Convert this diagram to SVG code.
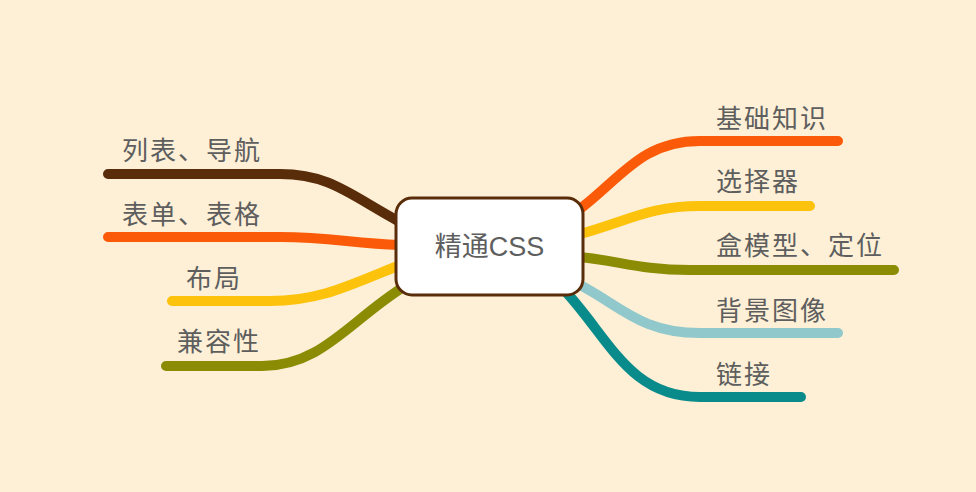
<svg xmlns="http://www.w3.org/2000/svg" width="976" height="492" viewBox="0 0 976 492">
<style>
.bg{fill:#fdf0d6}
.br{fill:none;stroke-width:10;stroke-linecap:round;stroke-linejoin:round}
.lbl{font-family:"Liberation Sans","Noto Sans CJK SC",sans-serif;font-size:26px;letter-spacing:2px;fill:#5e5e5e}
.root{fill:#ffffff;stroke:#5a2d0a;stroke-width:3}
.rt{font-family:"Liberation Sans","Noto Sans CJK SC",sans-serif;font-size:27px;fill:#5e5e5e}
</style>
<rect class="bg" x="0" y="0" width="976" height="492"/>
<g id="connectors">
<path class="br" stroke="#5a2d0a" d="M108 174 L280 174 C330 174 350 195 400 222"/>
<path class="br" stroke="#fb5b09" d="M108 237 L280 237 C330 237 350 243 400 245"/>
<path class="br" stroke="#fdc20c" d="M172 301 L270 301 C320 301 350 285 400 265"/>
<path class="br" stroke="#8b8c04" d="M166 366 L262 366 C322 366 350 320 405 286"/>
<path class="br" stroke="#fb5b09" d="M576 212 C620 180 640 141 700 141 L838 141"/>
<path class="br" stroke="#fdc20c" d="M580 234 C630 220 650 206 700 206 L810 206"/>
<path class="br" stroke="#8b8c04" d="M580 257 C620 261 640 270 690 270 L894 270"/>
<path class="br" stroke="#91c8cb" d="M578 284 C620 305 640 333 700 333 L838 333"/>
<path class="br" stroke="#0a8b8b" d="M566 292 C610 340 630 397 700 397 L801 397"/>
</g>
<g id="root">
<rect class="root" x="396" y="198" width="187" height="97" rx="16" ry="16"/>
<text class="rt" x="489.5" y="256" text-anchor="middle">精通CSS</text>
</g>
<g id="n-list"><text class="lbl" x="122" y="160">列表、导航</text></g>
<g id="n-form"><text class="lbl" x="122" y="224">表单、表格</text></g>
<g id="n-layout"><text class="lbl" x="186" y="288">布局</text></g>
<g id="n-compat"><text class="lbl" x="177" y="351">兼容性</text></g>
<g id="n-basic"><text class="lbl" x="716" y="128">基础知识</text></g>
<g id="n-selector"><text class="lbl" x="716" y="191">选择器</text></g>
<g id="n-box"><text class="lbl" x="716" y="255">盒模型、定位</text></g>
<g id="n-bgimg"><text class="lbl" x="716" y="320">背景图像</text></g>
<g id="n-link"><text class="lbl" x="716" y="384">链接</text></g>
</svg>
